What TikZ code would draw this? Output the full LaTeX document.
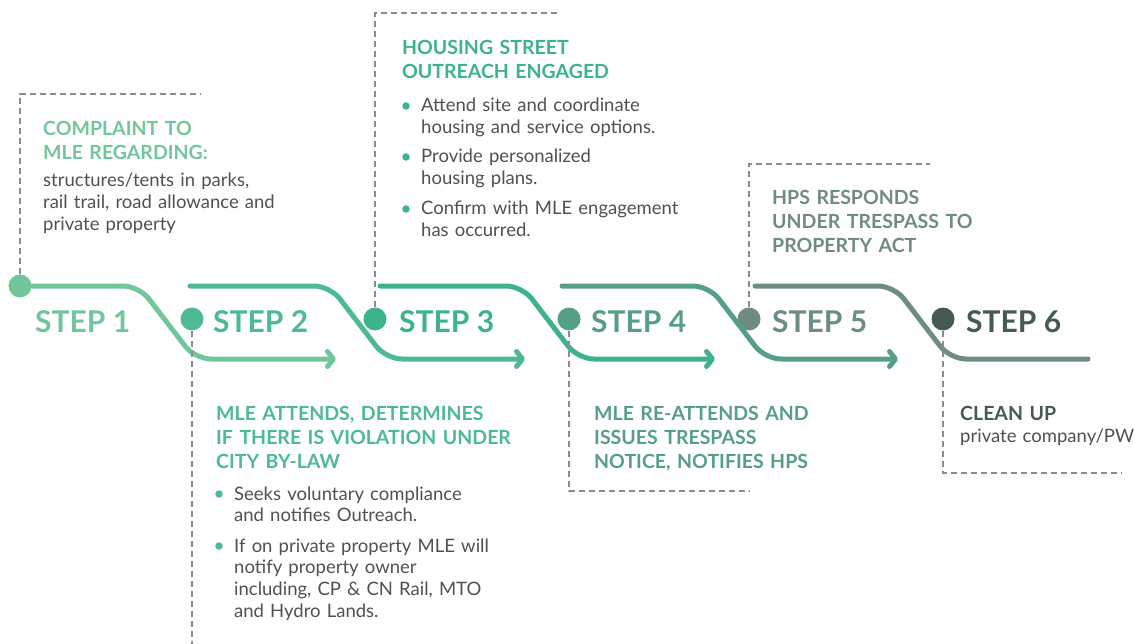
\documentclass[tikz,border=0pt]{standalone}
\usepackage{fontspec}
\setmainfont{Lato}
\usetikzlibrary{arrows.meta,positioning}

\definecolor{stepone}{HTML}{72C69C}
\definecolor{steptwo}{HTML}{4CBA92}
\definecolor{stepthree}{HTML}{3DB38B}
\definecolor{stepfour}{HTML}{55A085}
\definecolor{stepfive}{HTML}{6F8C80}
\definecolor{stepsix}{HTML}{465A50}
\definecolor{bodygray}{HTML}{505050}
\definecolor{guidegray}{HTML}{8C8C8C}

\tikzset{
  ribbon/.style={line width=5pt, line cap=round, line join=round, rounded corners=16pt},
  tip/.style={-{Straight Barb[length=6pt,width=15pt,round]}},
  guide/.style={guidegray, line width=1.4pt, dash pattern=on 6pt off 4pt},
  stepdot/.style={circle, inner sep=0pt, minimum size=23pt},
  steplabel/.style={anchor=base west, inner sep=0pt, font=\fontsize{30}{36}\selectfont\bfseries},
  headtext/.style={anchor=base west, inner sep=0pt, text width=320pt, align=left,
    font=\fontsize{19.5}{24}\selectfont\bfseries},
  bodytext/.style={anchor=base west, inner sep=0pt, text width=320pt, align=left,
    text=bodygray, font=\fontsize{18.5}{21.7}\selectfont},
  bul/.style={circle, inner sep=0pt, minimum size=7.5pt}
}

\begin{document}
\begin{tikzpicture}[x=1pt, y=-1pt]
  \useasboundingbox (0,0) rectangle (1134,644);

  % step dots
  \node[stepdot, fill=stepone] (d1) at (20,286) {};
  \node[stepdot, fill=steptwo] (d2) at (192,319) {};
  \node[stepdot, fill=stepthree] (d3) at (375,319) {};
  \node[stepdot, fill=stepfour] (d4) at (569,319) {};
  \node[stepdot, fill=stepfive] (d5) at (749,319) {};
  \node[stepdot, fill=stepsix] (d6) at (943,319) {};

  % ribbon
  \draw[ribbon, tip, stepone]
      (d1.east) -- (139,286) -- (195,359) -- (336,359);
  \draw[ribbon, tip, steptwo]
      (190,286) -- (330,286) -- (386,359) -- (525,359);
  \draw[ribbon, tip, stepthree]
      (380,286) -- (522,286) -- (578,359) -- (715,359);
  \draw[ribbon, tip, stepfour]
      (562,286) -- (709,286) -- (765,359) -- (898,359);
  \draw[ribbon, stepfive]
      (755,286) -- (894,286) -- (950,359) -- (1088,359);

  % step labels
  \node[steplabel, text=stepone] (s1) at (35,332) {STEP 1};
  \node[steplabel, text=steptwo] (s2) at (213,332) {STEP 2};
  \node[steplabel, text=stepthree] (s3) at (399,332) {STEP 3};
  \node[steplabel, text=stepfour] (s4) at (591,332) {STEP 4};
  \node[steplabel, text=stepfive] (s5) at (772,332) {STEP 5};
  \node[steplabel, text=stepsix] (s6) at (966,332) {STEP 6};

  % dashed guides
  \draw[guide] (d1.north) |- (201,94);
  \draw[guide] (d2.south) -- (192,644);
  \draw[guide] (d3.north) |- (557,13);
  \draw[guide] (d4.south) |- (749,491);
  \draw[guide] (d5.north) |- (930,164);
  \draw[guide] (d6.south) |- (1122,473);

  % step 1 text
  \node[headtext, text=stepone] (h1) at (43,136) {COMPLAINT TO\\MLE REGARDING:};
  \node[bodytext] (t1) at (43,187)
      {structures/tents in parks,\\rail trail, road allowance and\\private property};

  % step 2 text
  \node[headtext, text=steptwo] (h2) at (216,420)
      {MLE ATTENDS, DETERMINES\\IF THERE IS VIOLATION UNDER\\CITY BY-LAW};
  \node[bodytext] (i21) at (234,500) {Seeks voluntary compliance\\and notifies Outreach.};
  \node[bodytext] (i22) at (234,552)
      {If on private property MLE will\\notify property owner\\including, CP \& CN Rail, MTO\\and Hydro Lands.};
  \node[bul, fill=steptwo] (b21) at ([xshift=-15pt, yshift=6pt]i21.base west) {};
  \node[bul, fill=steptwo] (b22) at ([xshift=-15pt, yshift=6pt]i22.base west) {};

  % step 3 text
  \node[headtext, text=stepthree] (h3) at (402,55)
      {HOUSING STREET\\OUTREACH ENGAGED};
  \node[bodytext] (i31) at (421,112) {Attend site and coordinate\\housing and service options.};
  \node[bodytext] (i32) at (421,163) {Provide personalized\\housing plans.};
  \node[bodytext] (i33) at (421,215) {Confirm with MLE engagement\\has occurred.};
  \node[bul, fill=stepthree] (b31) at ([xshift=-15pt, yshift=6pt]i31.base west) {};
  \node[bul, fill=stepthree] (b32) at ([xshift=-15pt, yshift=6pt]i32.base west) {};
  \node[bul, fill=stepthree] (b33) at ([xshift=-15pt, yshift=6pt]i33.base west) {};

  % step 4 text
  \node[headtext, text=stepfour] (h4) at (594,420)
      {MLE RE-ATTENDS AND\\ISSUES TRESPASS\\NOTICE, NOTIFIES HPS};

  % step 5 text
  \node[headtext, text=stepfive] (h5) at (772,205)
      {HPS RESPONDS\\UNDER TRESPASS TO\\PROPERTY ACT};

  % step 6 text
  \node[headtext, text=stepsix] (h6) at (960,420) {CLEAN UP};
  \node[bodytext] (t6) at (960,442) {private company/PW};
\end{tikzpicture}
\end{document}
